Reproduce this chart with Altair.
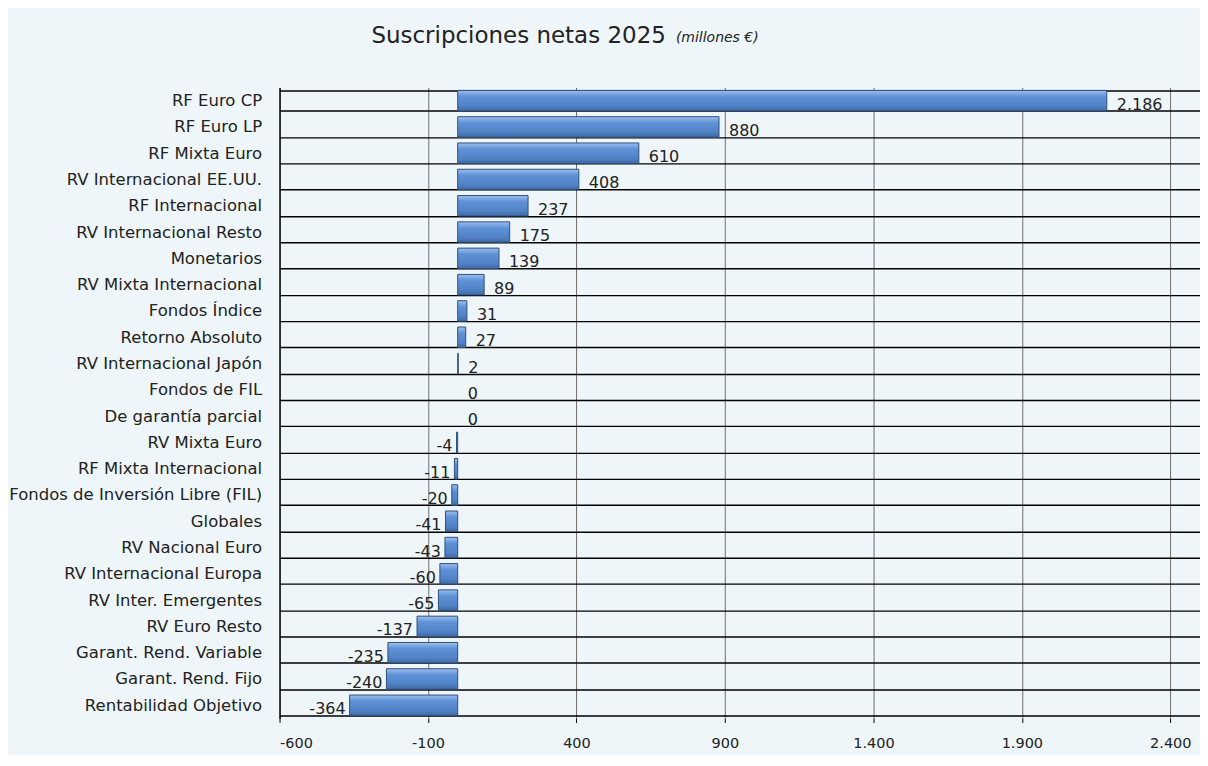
import altair as alt
import pandas as pd

categories = [
    "RF Euro CP", "RF Euro LP", "RF Mixta Euro", "RV Internacional EE.UU.",
    "RF Internacional", "RV Internacional Resto", "Monetarios",
    "RV Mixta Internacional", "Fondos Índice", "Retorno Absoluto",
    "RV Internacional Japón", "Fondos de FIL", "De garantía parcial",
    "RV Mixta Euro", "RF Mixta Internacional", "Fondos de Inversión Libre (FIL)",
    "Globales", "RV Nacional Euro", "RV Internacional Europa",
    "RV Inter. Emergentes", "RV Euro Resto", "Garant. Rend. Variable",
    "Garant. Rend. Fijo", "Rentabilidad Objetivo",
]
values = [2186, 880, 610, 408, 237, 175, 139, 89, 31, 27, 2, 0, 0,
          -4, -11, -20, -41, -43, -60, -65, -137, -235, -240, -364]
tick_values = [-600, -100, 400, 900, 1400, 1900, 2400]

labels = [f"{v:,}".replace(",", ".") for v in values]
df = pd.DataFrame({"cat": categories, "v": values, "lab": labels})

BG = "#eef6f9"
FONT = "DejaVu Sans"
TXT = "#222222"

y_enc = alt.Y(
    "cat:N",
    sort=categories,
    scale=alt.Scale(domain=categories, paddingInner=0.22, paddingOuter=0.11),
    axis=alt.Axis(
        title=None, ticks=False, tickBand="extent", grid=True,
        gridColor="black", gridWidth=1.4, domainColor="black", domainWidth=1.4,
        labelFont=FONT, labelFontSize=16.5, labelColor=TXT, labelPadding=18,
        labelLimit=400,
    ),
)
x_enc = alt.X(
    "v:Q",
    scale=alt.Scale(domain=[-600, 2500], nice=False, zero=False),
    axis=alt.Axis(
        title=None, values=tick_values,
        labelExpr="replace(replace(datum.label, ',', '.'), '\u2212', '-')",
        grid=True, gridColor="#6e6e6e", gridWidth=1,
        domain=False, tickColor="black", tickSize=4,
        labelFont=FONT, labelFontSize=14.5, labelColor=TXT, labelPadding=14,
    ),
)

base = alt.Chart(df)

bar_fill = alt.Gradient(
    gradient="linear",
    stops=[
        alt.GradientStop(color="#9cc0f0", offset=0),
        alt.GradientStop(color="#5f91d6", offset=0.3),
        alt.GradientStop(color="#5282c6", offset=0.75),
        alt.GradientStop(color="#3d69a5", offset=1),
    ],
    x1=0, x2=0, y1=0, y2=1,
)

bars = base.transform_filter("datum.v != 0").mark_bar(
    fill=bar_fill, stroke="#2f4f7a", strokeWidth=1
).encode(x=x_enc, x2=alt.datum(0), y=y_enc)

pos_text = base.transform_filter("datum.v >= 0").mark_text(
    align="left", baseline="middle", dx=10, dy=4, font=FONT, fontSize=16, color=TXT
).encode(x=alt.X("v:Q"), y=alt.Y("cat:N", sort=categories), text="lab:N")

neg_text = base.transform_filter("datum.v < 0").mark_text(
    align="right", baseline="middle", dx=-4, dy=4, font=FONT, fontSize=16, color=TXT
).encode(x=alt.X("v:Q"), y=alt.Y("cat:N", sort=categories), text="lab:N")

title_df = pd.DataFrame({"t": ["Suscripciones netas 2025"]})
sub_df = pd.DataFrame({"t": ["(millones €)"]})

title = alt.Chart(title_df).mark_text(
    align="left", baseline="alphabetic", font=FONT, fontSize=23, color=TXT
).encode(x=alt.value(92), y=alt.value(-45), text="t:N")
subtitle = alt.Chart(sub_df).mark_text(
    align="left", baseline="alphabetic", font=FONT, fontSize=14,
    fontStyle="italic", color=TXT
).encode(x=alt.value(397), y=alt.value(-46), text="t:N")

chart = alt.layer(bars, pos_text, neg_text, title, subtitle).properties(
    width=922, height=632, background=BG,
    padding={"top": 16, "left": 0, "right": 0, "bottom": 4},
).configure_view(stroke=None)

chart.save("out.html", embed_options={"renderer": "svg", "actions": False})
